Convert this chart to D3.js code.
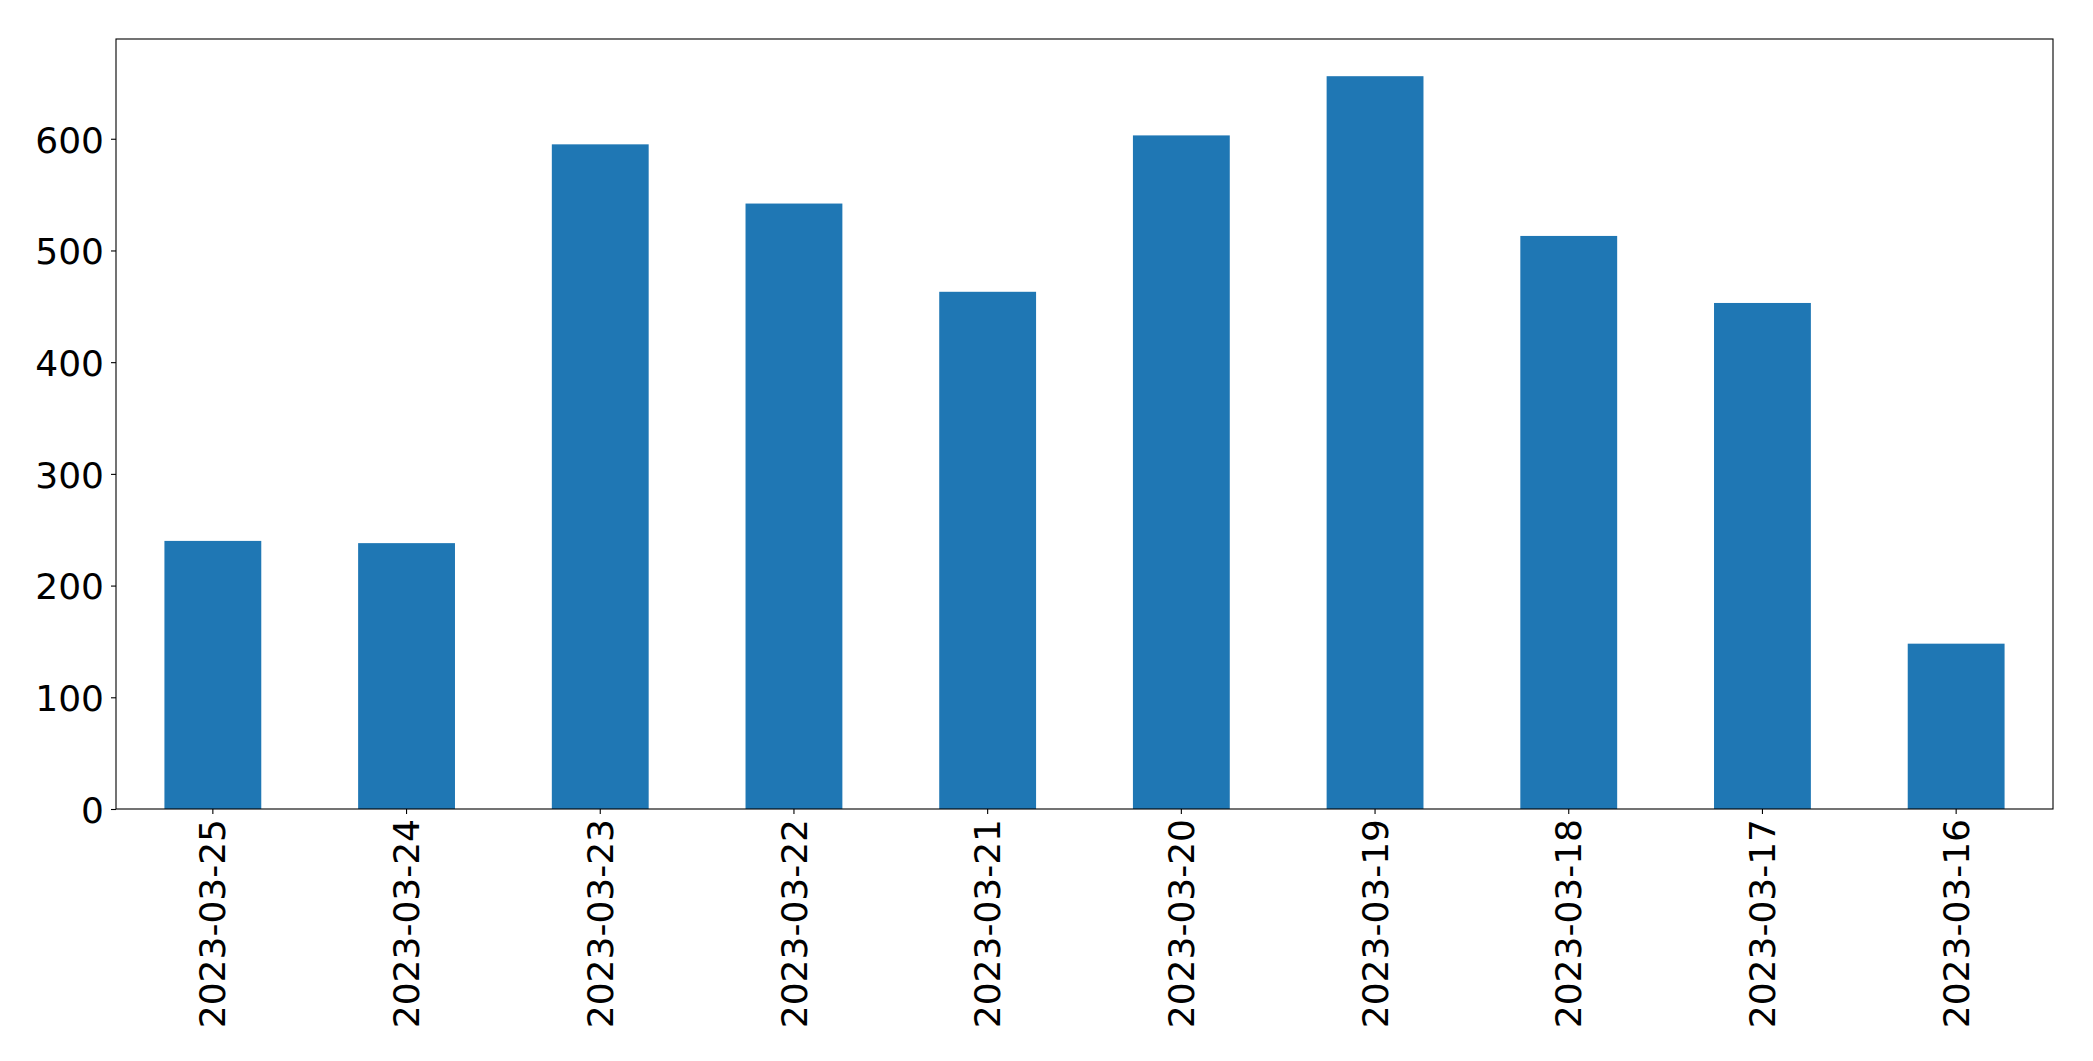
<!DOCTYPE html>
<html>
  <head>
    <meta charset="utf-8" />
    <script src="https://d3js.org/d3.v7.min.js"></script>
    <style>
      body { margin: 0; background: #fff; }
      svg text { font-family: "DejaVu Sans", sans-serif; fill: #000; }
    </style>
  </head>
  <body>
    <svg id="chart" width="2093" height="1061"></svg>
    <script>
      // data
      const dates = ["2023-03-25", "2023-03-24", "2023-03-23", "2023-03-22", "2023-03-21",
                     "2023-03-20", "2023-03-19", "2023-03-18", "2023-03-17", "2023-03-16"];
      const counts = [240, 238, 595, 542, 463, 603, 656, 513, 453, 148];
      const yTicks = [0, 100, 200, 300, 400, 500, 600];

      const svg = d3.select("#chart");
      const margin = { top: 39, right: 40, bottom: 252, left: 116 };
      const width = 2093 - margin.left - margin.right;
      const height = 1061 - margin.top - margin.bottom;

      const g = svg.append("g")
        .attr("transform", "translate(" + margin.left + "," + margin.top + ")");

      const x = d3.scaleBand().domain(dates).range([0, width]);
      const y = d3.scaleLinear().domain([0, 689.3]).range([height, 0]);

      // bars (half the band wide, centred)
      g.selectAll("rect.bar")
        .data(dates)
        .join("rect")
        .attr("class", "bar")
        .attr("x", (d) => x(d) + x.bandwidth() * 0.25)
        .attr("width", x.bandwidth() * 0.5)
        .attr("y", (d, i) => y(counts[i]))
        .attr("height", (d, i) => height - y(counts[i]))
        .attr("fill", "#1f77b4");

      // axes
      const xAxis = g.append("g")
        .attr("transform", "translate(0," + height + ")")
        .call(d3.axisBottom(x).tickSize(5).tickPadding(8));
      xAxis.select(".domain").remove();
      xAxis.selectAll(".tick line").attr("stroke", "#000").attr("stroke-width", 1.1);
      xAxis.selectAll(".tick text")
        .attr("font-size", 36)
        .attr("transform", "rotate(-90)")
        .attr("text-anchor", "end")
        .attr("x", -10)
        .attr("y", 0)
        .attr("dy", "0.35em");

      const yAxis = g.append("g")
        .call(d3.axisLeft(y).tickValues(yTicks).tickSize(5).tickPadding(7));
      yAxis.select(".domain").remove();
      yAxis.selectAll(".tick line").attr("stroke", "#000").attr("stroke-width", 1.1);
      yAxis.selectAll(".tick text").attr("font-size", 36).attr("dy", "0.37em");

      // frame
      g.append("rect")
        .attr("width", width)
        .attr("height", height)
        .attr("fill", "none")
        .attr("stroke", "#000")
        .attr("stroke-width", 1.1);
    </script>
  </body>
</html>
